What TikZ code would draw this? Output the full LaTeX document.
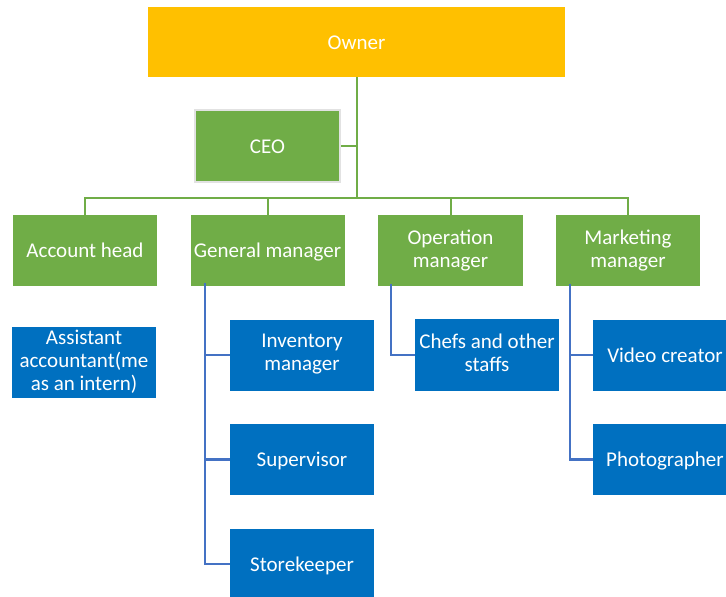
\documentclass[tikz,border=0pt]{standalone}
\usepackage{fontspec}
\setmainfont{Carlito}
\definecolor{ownerfill}{HTML}{FFC000}
\definecolor{mgrfill}{HTML}{70AD47}
\definecolor{stafffill}{HTML}{0070C0}
\definecolor{linkblue}{HTML}{4472C4}
\definecolor{ceoedge}{HTML}{E2E2E2}
% fixed line strut so every label sits on the same baseline grid
\newcommand{\linestrut}{\rule[-4.5pt]{0pt}{23pt}}
\begin{document}
\begin{tikzpicture}[x=1pt,y=-1pt,
  box/.style={rectangle, inner sep=0pt, align=center, text=white,
    font=\fontsize{21}{23}\selectfont,
    execute at begin node=\linestrut, execute at end node=\linestrut},
  ownerbox/.style={box, fill=ownerfill, minimum width=417pt, minimum height=70pt},
  mgrbox/.style={box, fill=mgrfill, minimum width=144pt, minimum height=71pt},
  staffbox/.style={box, fill=stafffill, minimum width=144pt, minimum height=71pt},
  gline/.style={draw=mgrfill, line width=2pt},
  bline/.style={draw=linkblue, line width=2.5pt}]
\useasboundingbox (0,0) rectangle (726,597);
\clip (0,0) rectangle (726,597);

% top of the chart
\node[ownerbox] (owner) at (356.5,42) {Owner};
\node[mgrbox, minimum width=145pt, minimum height=72pt, draw=ceoedge, line width=2pt] (ceo) at (267.5,146) {CEO};

% managers
\node[mgrbox] (acc) at (85,250.5) {Account head};
\node[mgrbox, minimum width=154pt] (gm) at (267.5,250.5) {General manager};
\node[mgrbox, minimum width=145pt] (op) at (450.5,250.5) {Operation\\manager};
\node[mgrbox] (mkt) at (628,250.5) {Marketing\\manager};

% staff
\node[staffbox] (asst) at (84,362.5) {Assistant\\accountant(me\\as an intern)};
\node[staffbox] (inv) at (302,355) {Inventory\\manager};
\node[staffbox] (sup) at (302,459.5) {Supervisor};
\node[staffbox] (store) at (302,564) {Storekeeper};
\node[staffbox, minimum height=72pt] (chefs) at (487,355) {Chefs and other\\staffs};
\node[staffbox] (video) at (665,355) {Video creator};
\node[staffbox] (photo) at (665,459.5) {Photographer};

% green tree links
\coordinate (bar) at (0,198);
\draw[gline] (owner.south) -- (owner.south |- bar);
\draw[gline] (ceo.east) -- (ceo.east -| owner.south);
\draw[gline] (acc.north) -- (acc.north |- bar) -| (mkt.north);
\draw[gline] (gm.north) -- (gm.north |- bar);
\draw[gline] (op.north) -- (op.north |- bar);

% blue staff links
\coordinate (gmx) at (205,0);
\coordinate (opx) at (391,0);
\coordinate (mkx) at (570,0);
\draw[bline] ([yshift=3pt]gm.south -| gmx) -- (store.west -| gmx) -- (store.west);
\draw[bline] (inv.west -| gmx) -- (inv.west);
\draw[bline] (sup.west -| gmx) -- (sup.west);
\draw[bline] ([yshift=2pt]op.south -| opx) |- (chefs.west);
\draw[bline] ([yshift=2pt]mkt.south -| mkx) |- (photo.west);
\draw[bline] (video.west -| mkx) -- (video.west);
\end{tikzpicture}
\end{document}
